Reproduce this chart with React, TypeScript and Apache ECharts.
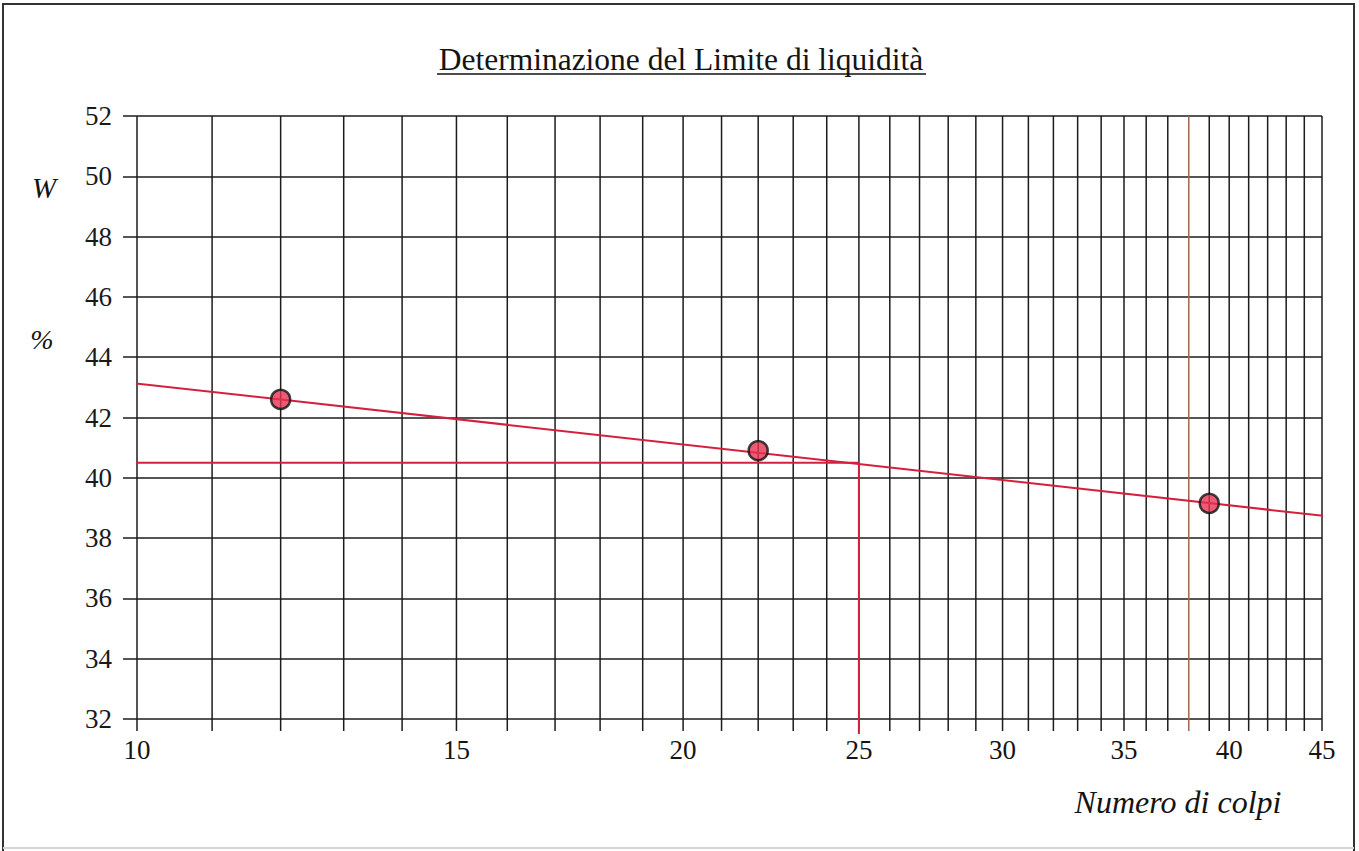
import React, { useEffect, useRef } from "react";
import * as echarts from "echarts";

// ---- data ----
const blowCounts = [12, 22, 39];
const waterContent = [42.6, 40.9, 39.15];
const trendBlows = [9.72, 45.2];
const trendWater = [43.21, 38.73];
const liquidLimit = 40.5;
const referenceBlows = 25;
const lineStartBlows = 9.72;
const yBottomExtension = 31.5;
const xGridValues = [
  10, 11, 12, 13, 14, 15, 16, 17, 18, 19, 20, 21, 22, 23, 24, 25, 26, 27,
  28, 29, 30, 31, 32, 33, 34, 35, 36, 37, 38, 39, 40, 41, 42, 43, 44, 45,
];
const xLabelValues = [10, 15, 20, 25, 30, 35, 40, 45];
const yMin = 32;
const yMax = 52;
const yStep = 2;

const titleText = "Determinazione del Limite di liquidità";
const xName = "Numero di colpi";

const SERIF = "Liberation Serif";
const RED = "#d3203f";

export default function App() {
  const ref = useRef<HTMLDivElement>(null);

  useEffect(() => {
    document.body.style.margin = "0";
    if (!ref.current) return;
    const chart = echarts.init(ref.current, null, { renderer: "svg" });

    const textStyle = (size: number, italic = false) => ({
      fontFamily: SERIF,
      fontSize: size,
      fontStyle: italic ? "italic" : "normal",
      fill: "#141414",
    });

    const option: any = {
      animation: false,
      backgroundColor: "#ffffff",
      grid: { left: 137, right: 37, top: 116, bottom: 132 },
      xAxis: {
        type: "log",
        logBase: 10,
        min: 10,
        max: 45,
        axisLine: { show: false },
        axisTick: { show: false },
        axisLabel: { show: false },
        splitLine: { show: false },
        minorSplitLine: { show: false },
      },
      yAxis: {
        type: "value",
        min: yMin,
        max: yMax,
        interval: yStep,
        axisLine: { show: false },
        axisTick: { show: true, length: 14, lineStyle: { color: "#1c1c1c", width: 1.5 } },
        axisLabel: {
          margin: 25,
          fontFamily: SERIF,
          fontSize: 27,
          color: "#1a1a1a",
        },
        splitLine: { show: true, lineStyle: { color: "#1c1c1c", width: 1.5 } },
      },
      graphic: [
        {
          type: "polyline",
          shape: { points: [[3, 851], [3, 4], [1354, 4], [1354, 851]] },
          style: { stroke: "#333", lineWidth: 2, fill: null },
        },
        {
          type: "line",
          shape: { x1: 3, y1: 848, x2: 1354, y2: 848 },
          style: { stroke: "#d5d5d5", lineWidth: 2 },
        },
        {
          type: "text",
          x: 681,
          y: 59,
          style: {
            ...textStyle(31.5),
            text: titleText,
            align: "center",
            verticalAlign: "middle",
          },
        },
        {
          type: "line",
          shape: { x1: 437, y1: 74, x2: 926, y2: 74 },
          style: { stroke: "#111", lineWidth: 1.4 },
        },
        {
          type: "text",
          x: 44,
          y: 188,
          style: {
            ...textStyle(29, true),
            text: "W",
            align: "center",
            verticalAlign: "middle",
          },
        },
        {
          type: "text",
          x: 42,
          y: 339,
          style: {
            ...textStyle(28, true),
            text: "%",
            align: "center",
            verticalAlign: "middle",
          },
        },
        {
          type: "text",
          x: 1178,
          y: 802,
          style: {
            ...textStyle(32, true),
            text: xName,
            align: "center",
            verticalAlign: "middle",
          },
        },
      ],
      series: [
        {
          type: "custom",
          name: "grid-x",
          clip: false,
          silent: true,
          z: 1,
          data: xGridValues.map((v) => [v]),
          renderItem: (params: any, api: any) => {
            const x = api.value(0);
            const top = api.coord([x, yMax]);
            const bot = api.coord([x, yMin]);
            const children: any[] = [
              {
                type: "line",
                shape: { x1: top[0], y1: top[1], x2: bot[0], y2: bot[1] + 12 },
                style: { stroke: x === 38 ? "#9c6650" : "#1c1c1c", lineWidth: 1.5 },
              },
            ];
            if (xLabelValues.indexOf(x) >= 0) {
              children.push({
                type: "text",
                x: bot[0],
                y: bot[1] + 17,
                style: {
                  ...textStyle(27),
                  text: String(x),
                  align: "center",
                  verticalAlign: "top",
                },
              });
            }
            return { type: "group", children };
          },
        },
        {
          type: "line",
          name: "trend",
          clip: false,
          silent: true,
          z: 3,
          symbol: "none",
          data: trendBlows.map((b, i) => [b, trendWater[i]]),
          lineStyle: { color: RED, width: 2 },
        },
        {
          type: "line",
          name: "ll-lines",
          clip: false,
          silent: true,
          z: 3,
          symbol: "none",
          data: [
            [lineStartBlows, liquidLimit],
            [referenceBlows, liquidLimit],
            [referenceBlows, yBottomExtension],
          ],
          lineStyle: { color: RED, width: 2 },
        },
        {
          type: "scatter",
          name: "points",
          z: 5,
          symbol: "circle",
          symbolSize: 19,
          data: blowCounts.map((b, i) => [b, waterContent[i]]),
          itemStyle: { color: "#e63250", borderColor: "#111", borderWidth: 2.5 },
        },
      ],
    };

    chart.setOption(option);
    return () => chart.dispose();
  }, []);

  return <div ref={ref} style={{ width: 1359, height: 851 }} />;
}
